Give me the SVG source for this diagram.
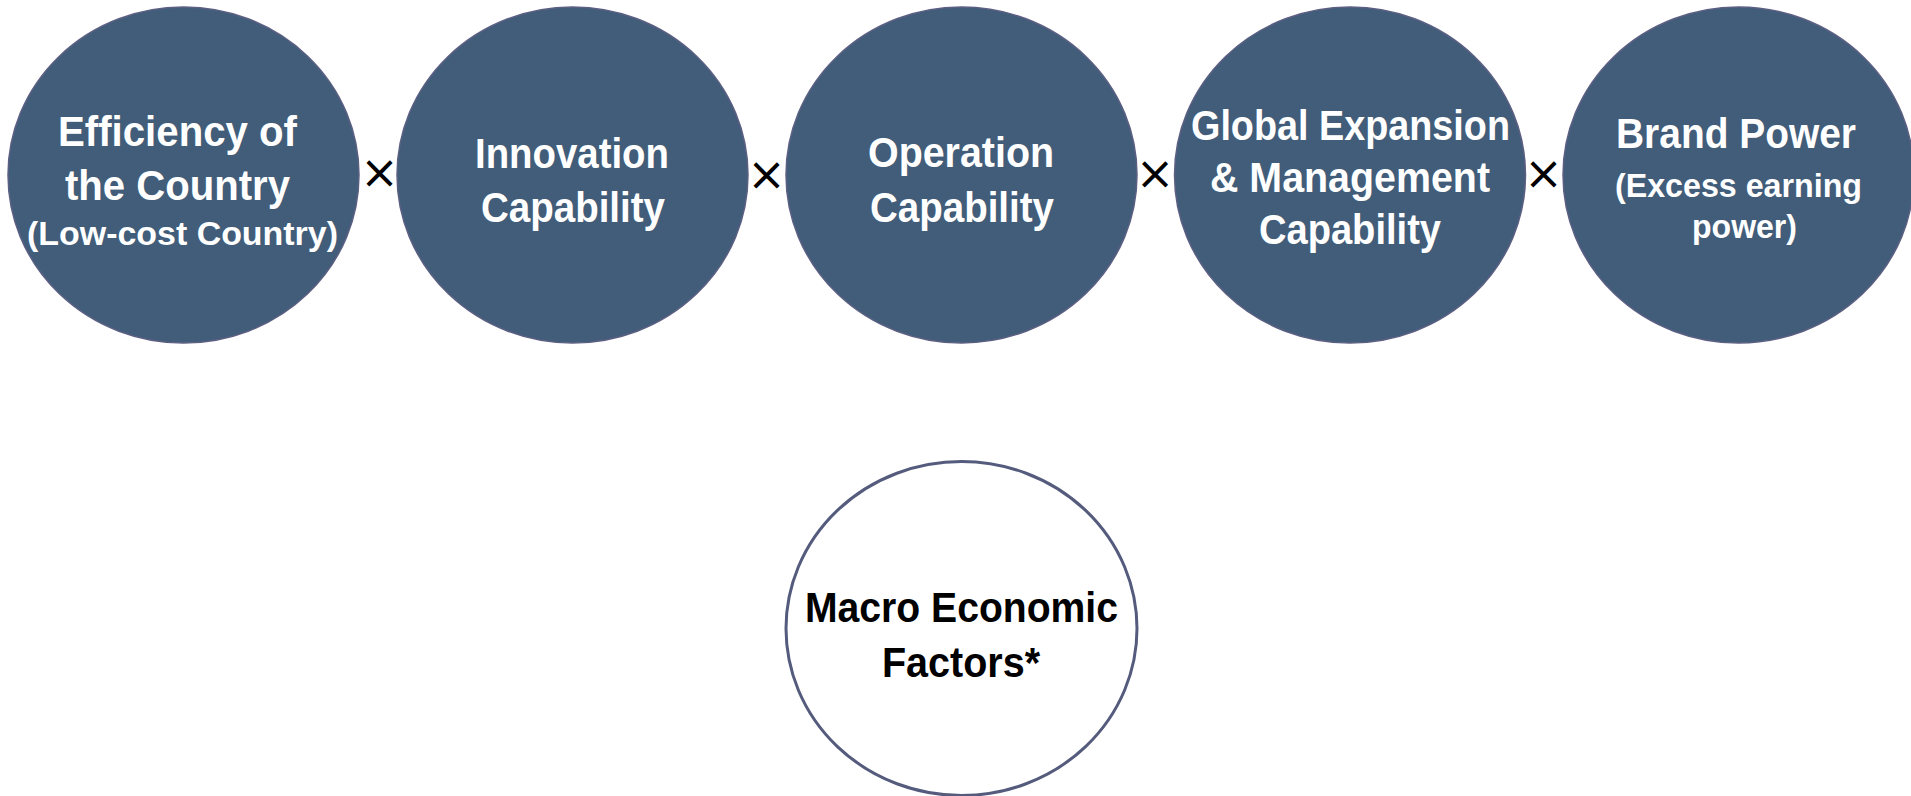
<svg xmlns="http://www.w3.org/2000/svg" width="1911" height="796" viewBox="0 0 1911 796">
  <style>
    .factor { fill: #415d7a; stroke: #5b5f82; stroke-width: 1.5; }
    .macro { fill: #ffffff; stroke: #545b7c; stroke-width: 3; }
    .lbl { font-family: "Liberation Sans", Arial, sans-serif; font-weight: bold; text-anchor: middle; }
    .main { font-size: 43px; fill: #ffffff; }
    .sub { font-size: 34px; fill: #ffffff; }
    .dark { font-size: 42px; fill: #000000; }
    .times { font-family: "DejaVu Sans", sans-serif; font-size: 46px; fill: #000000; text-anchor: middle; }
  </style>
  <rect width="1911" height="796" fill="#ffffff"/>

  <!-- multiplication signs between the factors -->
  <g id="connectors">
    <text class="times" x="379.5" y="188">×</text>
    <text class="times" x="766.5" y="190">×</text>
    <text class="times" x="1155" y="189">×</text>
    <text class="times" x="1543.5" y="189">×</text>
  </g>

  <g id="node-efficiency">
    <ellipse class="factor" cx="183.5" cy="175" rx="175.5" ry="168"/>
    <text class="lbl main" x="177.5" y="146" textLength="239" lengthAdjust="spacingAndGlyphs">Efficiency of</text>
    <text class="lbl main" x="177.5" y="200" textLength="225" lengthAdjust="spacingAndGlyphs">the Country</text>
    <text class="lbl sub" x="182.5" y="245" textLength="311" lengthAdjust="spacingAndGlyphs">(Low-cost Country)</text>
  </g>

  <g id="node-innovation">
    <ellipse class="factor" cx="572.5" cy="175" rx="175.5" ry="168"/>
    <text class="lbl main" x="572" y="168" textLength="194" lengthAdjust="spacingAndGlyphs">Innovation</text>
    <text class="lbl main" x="573" y="222" textLength="184" lengthAdjust="spacingAndGlyphs">Capability</text>
  </g>

  <g id="node-operation">
    <ellipse class="factor" cx="961.5" cy="175" rx="175.5" ry="168"/>
    <text class="lbl main" x="961" y="167" textLength="186" lengthAdjust="spacingAndGlyphs">Operation</text>
    <text class="lbl main" x="962" y="222" textLength="184" lengthAdjust="spacingAndGlyphs">Capability</text>
  </g>

  <g id="node-global">
    <ellipse class="factor" cx="1350" cy="175" rx="175.5" ry="168"/>
    <text class="lbl main" x="1350.5" y="140" textLength="319" lengthAdjust="spacingAndGlyphs">Global Expansion</text>
    <text class="lbl main" x="1350" y="192" textLength="280" lengthAdjust="spacingAndGlyphs">&amp; Management</text>
    <text class="lbl main" x="1350" y="244" textLength="182" lengthAdjust="spacingAndGlyphs">Capability</text>
  </g>

  <g id="node-brand">
    <ellipse class="factor" cx="1738.5" cy="175" rx="175.5" ry="168"/>
    <text class="lbl main" x="1736" y="148" textLength="240" lengthAdjust="spacingAndGlyphs">Brand Power</text>
    <text class="lbl sub" x="1738.5" y="197" textLength="247" lengthAdjust="spacingAndGlyphs">(Excess earning</text>
    <text class="lbl sub" x="1744.5" y="238" textLength="105" lengthAdjust="spacingAndGlyphs">power)</text>
  </g>

  <g id="node-macro">
    <ellipse class="macro" cx="961.5" cy="628.5" rx="175.5" ry="167"/>
    <text class="lbl dark" x="961.5" y="622" textLength="313" lengthAdjust="spacingAndGlyphs">Macro Economic</text>
    <text class="lbl dark" x="961" y="677" textLength="158" lengthAdjust="spacingAndGlyphs">Factors*</text>
  </g>
</svg>
